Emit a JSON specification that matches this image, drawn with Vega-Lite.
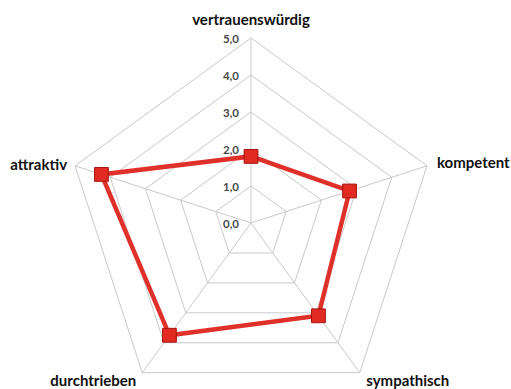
{
  "$schema": "https://vega.github.io/schema/vega-lite/v6.json",
  "width": 511,
  "height": 389,
  "padding": 0,
  "autosize": {"type": "none"},
  "background": "white",
  "config": {"view": {"stroke": null}},
  "datasets": {
    "scores": [
      {"Merkmal": "vertrauenswürdig", "idx": 0, "Wert": 1.8},
      {"Merkmal": "kompetent", "idx": 1, "Wert": 2.8},
      {"Merkmal": "sympathisch", "idx": 2, "Wert": 3.1},
      {"Merkmal": "durchtrieben", "idx": 3, "Wert": 3.75},
      {"Merkmal": "attraktiv", "idx": 4, "Wert": 4.25}
    ],
    "grid": [
      {"level": 1, "idx": 0}, {"level": 1, "idx": 1}, {"level": 1, "idx": 2}, {"level": 1, "idx": 3}, {"level": 1, "idx": 4},
      {"level": 2, "idx": 0}, {"level": 2, "idx": 1}, {"level": 2, "idx": 2}, {"level": 2, "idx": 3}, {"level": 2, "idx": 4},
      {"level": 3, "idx": 0}, {"level": 3, "idx": 1}, {"level": 3, "idx": 2}, {"level": 3, "idx": 3}, {"level": 3, "idx": 4},
      {"level": 4, "idx": 0}, {"level": 4, "idx": 1}, {"level": 4, "idx": 2}, {"level": 4, "idx": 3}, {"level": 4, "idx": 4},
      {"level": 5, "idx": 0}, {"level": 5, "idx": 1}, {"level": 5, "idx": 2}, {"level": 5, "idx": 3}, {"level": 5, "idx": 4}
    ],
    "ticks": [
      {"level": 0, "label": "0,0"},
      {"level": 1, "label": "1,0"},
      {"level": 2, "label": "2,0"},
      {"level": 3, "label": "3,0"},
      {"level": 4, "label": "4,0"},
      {"level": 5, "label": "5,0"}
    ]
  },
  "encoding": {
    "x": {"field": "x", "type": "quantitative", "axis": null, "scale": {"domain": [-6.784, 7.027], "nice": false, "zero": false}},
    "y": {"field": "y", "type": "quantitative", "axis": null, "scale": {"domain": [-4.486, 6.027], "nice": false, "zero": false}}
  },
  "layer": [
    {
      "data": {"name": "grid"},
      "transform": [
        {"calculate": "datum.idx * 2 * PI / 5", "as": "a1"},
        {"calculate": "(datum.idx + 1) * 2 * PI / 5", "as": "a2"},
        {"calculate": "datum.level * sin(datum.a1)", "as": "x"},
        {"calculate": "datum.level * cos(datum.a1)", "as": "y"},
        {"calculate": "datum.level * sin(datum.a2)", "as": "x2"},
        {"calculate": "datum.level * cos(datum.a2)", "as": "y2"}
      ],
      "mark": {"type": "rule", "stroke": "#c9c9c9", "strokeWidth": 1},
      "encoding": {"x2": {"field": "x2"}, "y2": {"field": "y2"}}
    },
    {
      "data": {"name": "scores"},
      "transform": [
        {"calculate": "datum.idx * 2 * PI / 5", "as": "a"},
        {"calculate": "5 * sin(datum.a)", "as": "x"},
        {"calculate": "5 * cos(datum.a)", "as": "y"}
      ],
      "mark": {"type": "rule", "stroke": "#c9c9c9", "strokeWidth": 1},
      "encoding": {"x2": {"datum": 0}, "y2": {"datum": 0}}
    },
    {
      "data": {"name": "ticks"},
      "transform": [
        {"calculate": "0", "as": "x"},
        {"calculate": "datum.level", "as": "y"}
      ],
      "mark": {"type": "text", "align": "right", "baseline": "middle", "dx": -12, "dy": 2, "font": "Lato", "fontWeight": "bold", "fontSize": 11.5, "fill": "#4a4a4a"},
      "encoding": {"text": {"field": "label"}}
    },
    {
      "data": {"name": "scores"},
      "transform": [
        {"calculate": "datum.idx * 2 * PI / 5", "as": "a"},
        {"calculate": "datum.Wert * sin(datum.a)", "as": "x"},
        {"calculate": "datum.Wert * cos(datum.a)", "as": "y"}
      ],
      "layer": [
        {
          "mark": {"type": "line", "interpolate": "linear-closed", "stroke": "#e0302a", "strokeWidth": 4.5},
          "encoding": {"order": {"field": "idx", "type": "quantitative"}}
        },
        {
          "mark": {"type": "point", "shape": "square", "filled": true, "size": 190, "fill": "#e02a22", "stroke": "#a51510", "strokeWidth": 1, "opacity": 1},
          "encoding": {}
        }
      ]
    },
    {
      "data": {"name": "scores"},
      "transform": [
        {"calculate": "datum.idx * 2 * PI / 5", "as": "a"},
        {"calculate": "5 * sin(datum.a)", "as": "x"},
        {"calculate": "5 * cos(datum.a)", "as": "y"}
      ],
      "layer": [
        {
          "transform": [{"filter": "datum.idx == 0"}],
          "mark": {"type": "text", "align": "center", "baseline": "middle", "dy": -18, "font": "Lato", "fontWeight": "bold", "fontSize": 15, "fill": "#111111"},
          "encoding": {"text": {"field": "Merkmal"}}
        },
        {
          "transform": [{"filter": "datum.idx == 1"}],
          "mark": {"type": "text", "align": "left", "baseline": "middle", "dx": 10, "dy": -3, "font": "Lato", "fontWeight": "bold", "fontSize": 15, "fill": "#111111"},
          "encoding": {"text": {"field": "Merkmal"}}
        },
        {
          "transform": [{"filter": "datum.idx == 2"}],
          "mark": {"type": "text", "align": "center", "baseline": "middle", "dx": 48, "dy": 8, "font": "Lato", "fontWeight": "bold", "fontSize": 15, "fill": "#111111"},
          "encoding": {"text": {"field": "Merkmal"}}
        },
        {
          "transform": [{"filter": "datum.idx == 3"}],
          "mark": {"type": "text", "align": "center", "baseline": "middle", "dx": -49, "dy": 8, "font": "Lato", "fontWeight": "bold", "fontSize": 15, "fill": "#111111"},
          "encoding": {"text": {"field": "Merkmal"}}
        },
        {
          "transform": [{"filter": "datum.idx == 4"}],
          "mark": {"type": "text", "align": "right", "baseline": "middle", "dx": -8, "dy": -1, "font": "Lato", "fontWeight": "bold", "fontSize": 15, "fill": "#111111"},
          "encoding": {"text": {"field": "Merkmal"}}
        }
      ]
    }
  ]
}
